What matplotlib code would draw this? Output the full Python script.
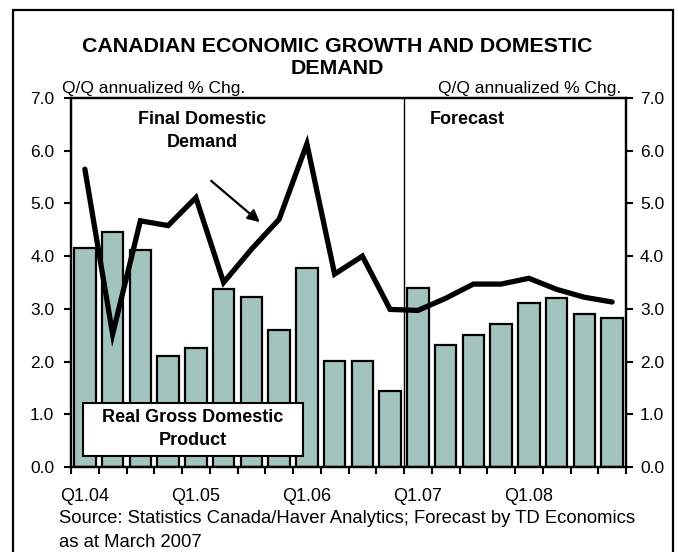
import matplotlib
matplotlib.use("Agg")
import matplotlib.pyplot as plt
from matplotlib.patches import Rectangle, FancyArrowPatch
import numpy as np

# Quarterly data, Q1 2004 - Q4 2008 (2007 onward is forecast)
quarters = ["Q1.04", "Q2.04", "Q3.04", "Q4.04",
            "Q1.05", "Q2.05", "Q3.05", "Q4.05",
            "Q1.06", "Q2.06", "Q3.06", "Q4.06",
            "Q1.07", "Q2.07", "Q3.07", "Q4.07",
            "Q1.08", "Q2.08", "Q3.08", "Q4.08"]
real_gdp = [4.15, 4.45, 4.12, 2.11, 2.25, 3.37, 3.23, 2.59,
            3.77, 2.01, 2.01, 1.44, 3.40, 2.31, 2.51, 2.71,
            3.11, 3.20, 2.91, 2.82]
final_dom_demand = [5.65, 2.52, 4.67, 4.58, 5.11, 3.50, 4.13, 4.70,
                    6.13, 3.66, 4.00, 2.99, 2.97, 3.20, 3.47, 3.47,
                    3.58, 3.37, 3.22, 3.13]
y_ticks = [0.0, 1.0, 2.0, 3.0, 4.0, 5.0, 6.0, 7.0]
labelled_quarters = ["Q1.04", "Q1.05", "Q1.06", "Q1.07", "Q1.08"]
forecast_start = "Q1.07"

plt.rcParams['font.family'] = ['Liberation Sans', 'DejaVu Sans']

W, H = 678, 552
fig = plt.figure(figsize=(W / 100, H / 100), dpi=100)
fig.patch.set_facecolor("white")


def fx(px):
    return px / W


def fy(py):
    return 1 - py / H


# plot area in pixel bounds
left, right, top, bottom = 71, 626, 98, 467
ax = fig.add_axes([fx(left), fy(bottom), fx(right - left), (bottom - top) / H])

x = np.arange(len(quarters))
ax.bar(x, real_gdp, width=0.78, color="#A3C4BE", edgecolor="black",
       linewidth=1.6, zorder=2)
ax.plot(x, final_dom_demand, color="black", lw=3.8, zorder=3,
        solid_joinstyle="miter", solid_capstyle="round")

ax.set_xlim(-0.5, len(quarters) - 0.5)
ax.set_ylim(y_ticks[0], y_ticks[-1])

# forecast divider between Q4.06 and Q1.07
ax.axvline(quarters.index(forecast_start) - 0.5, color="black", lw=1.0, zorder=1)

for s in ax.spines.values():
    s.set_linewidth(1.6)

# left value axis
ax.set_yticks(y_ticks)
ax.set_yticklabels([f"{v:.1f}" for v in y_ticks])
ax.tick_params(axis="y", direction="out", length=5, width=1.5, labelsize=12.5, pad=7)

# mirrored value axis on the right
ax_r = ax.twinx()
ax_r.set_ylim(ax.get_ylim())
ax_r.set_yticks(y_ticks)
ax_r.set_yticklabels([f"{v:.1f}" for v in y_ticks])
ax_r.tick_params(axis="y", direction="out", length=5, width=1.5, labelsize=12.5, pad=5)
for s in ax_r.spines.values():
    s.set_linewidth(1.6)

# tick marks on category boundaries, labels centred under the first quarter of each year
ax.set_xticks(np.arange(-0.5, len(quarters), 1.0))
ax.set_xticklabels([])
ax.tick_params(axis="x", which="major", direction="out", length=5, width=1.5)
ax.set_xticks([quarters.index(q) for q in labelled_quarters], minor=True)
ax.set_xticklabels(labelled_quarters, minor=True)
ax.tick_params(axis="x", which="minor", length=0, labelsize=13, pad=15)

# titles and axis captions
fig.text(fx(337), fy(52), "CANADIAN ECONOMIC GROWTH AND DOMESTIC", ha="center",
         va="baseline", fontsize=15.4, fontweight="bold")
fig.text(fx(337), fy(74), "DEMAND", ha="center", va="baseline", fontsize=15.4,
         fontweight="bold")
fig.text(fx(62), fy(93), "Q/Q annualized % Chg.", ha="left", va="baseline",
         fontsize=12.5)
fig.text(fx(621), fy(93), "Q/Q annualized % Chg.", ha="right", va="baseline",
         fontsize=12.5)

# annotations
fig.text(fx(202), fy(131), "Final Domestic\nDemand", ha="center", va="center",
         fontsize=13, fontweight="bold", linespacing=1.45)
fig.text(fx(430), fy(119), "Forecast", ha="left", va="center", fontsize=13,
         fontweight="bold")
arrow = FancyArrowPatch((fx(209), fy(179)), (fx(262), fy(224)),
                        transform=fig.transFigure, arrowstyle="-|>",
                        mutation_scale=18, lw=1.6, color="black")
fig.add_artist(arrow)

box = Rectangle((fx(83), fy(456)), fx(303 - 83), (456 - 403) / H,
                transform=fig.transFigure, facecolor="white", edgecolor="black",
                lw=1.5, zorder=5)
fig.add_artist(box)
fig.text(fx(193), fy(429), "Real Gross Domestic\nProduct", ha="center",
         va="center", fontsize=13, fontweight="bold", linespacing=1.4, zorder=6)

# source note
fig.text(fx(59), fy(523), "Source: Statistics Canada/Haver Analytics; Forecast by TD Economics",
         ha="left", va="baseline", fontsize=13.3)
fig.text(fx(59), fy(547), "as at March 2007", ha="left", va="baseline", fontsize=13.3)

# outer frame
frame = Rectangle((fx(13), fy(562)), fx(673 - 13), (562 - 10) / H,
                  transform=fig.transFigure, fill=False, edgecolor="black", lw=1.6)
fig.add_artist(frame)

fig.savefig("out.png", dpi=100)
